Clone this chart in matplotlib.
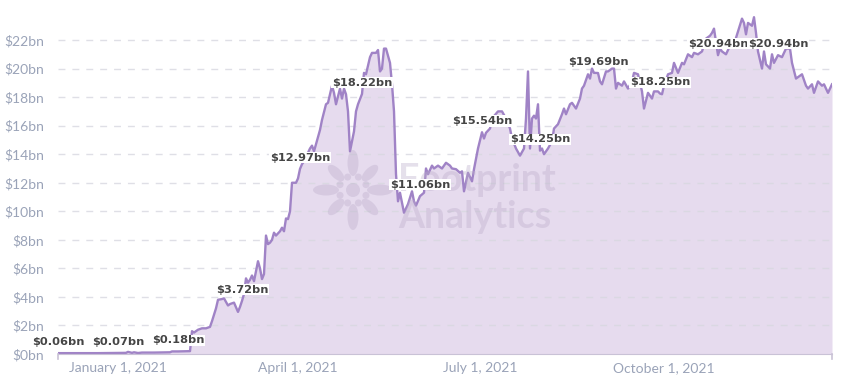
import matplotlib
matplotlib.use("Agg")
import matplotlib.pyplot as plt
from matplotlib.patches import Ellipse
import numpy as np
import pandas as pd

# days since 2020-12-02 and TVL in $bn
start = pd.Timestamp("2020-12-02")
day = [0, 10, 20, 30, 34, 35, 37, 38, 40, 42, 48, 56, 57, 60, 66, 67, 68, 70, 72, 74,
       76, 77, 79, 80, 82, 83, 85, 86, 88, 90, 91, 92, 93, 94, 95, 96, 97, 98, 100, 101,
       102, 103, 104, 105, 106, 107, 108, 109, 111, 112, 113, 114, 115, 116, 117, 119, 120, 121, 122, 123,
       125, 126, 127, 128, 129, 131, 132, 134, 135, 137, 138, 139, 141, 142, 143, 144, 145, 146, 148, 149,
       150, 152, 153, 154, 155, 156, 157, 159, 160, 161, 162, 163, 164, 166, 167, 168, 169, 170, 171, 173,
       175, 177, 178, 179, 181, 183, 184, 185, 187, 188, 190, 192, 194, 196, 197, 199, 201, 202, 203, 205,
       207, 208, 210, 212, 213, 214, 216, 217, 220, 222, 224, 226, 227, 229, 231, 233, 234, 235, 236, 237,
       238, 239, 240, 241, 242, 243, 245, 247, 248, 250, 252, 253, 254, 256, 257, 259, 261, 262, 263, 265,
       266, 267, 268, 270, 271, 272, 274, 275, 277, 278, 279, 280, 282, 283, 285, 287, 288, 290, 292, 293,
       295, 297, 298, 300, 301, 302, 303, 305, 307, 308, 310, 312, 313, 315, 317, 318, 320, 322, 324, 326,
       327, 328, 330, 331, 332, 334, 336, 338, 340, 342, 343, 344, 345, 347, 348, 349, 350, 352, 353, 354,
       356, 357, 358, 360, 362, 364, 366, 367, 369, 371, 372, 374, 375, 377, 378, 380, 382, 383, 384, 385,
       387]
tvl = [0.06, 0.06, 0.06, 0.07, 0.08, 0.15, 0.08, 0.12, 0.07, 0.10, 0.10, 0.12, 0.18, 0.18, 0.20, 1.6, 1.5, 1.7, 1.8, 1.8,
       1.9, 2.3, 3.2, 3.8, 3.85, 3.9, 3.4, 3.5, 3.6, 2.95, 3.3, 3.72, 4.2, 5.3, 5.0, 5.2, 5.5, 5.1, 6.5, 6.0,
       5.25, 5.6, 8.3, 7.7, 7.8, 8.0, 8.5, 8.3, 8.6, 8.85, 8.6, 9.5, 9.45, 10.0, 12.0, 12.0, 12.3, 12.97, 13.3, 13.5,
       14.1, 14.4, 14.6, 14.2, 14.7, 15.7, 16.4, 17.5, 17.6, 18.8, 18.3, 17.5, 18.6, 17.9, 18.6, 18.2, 17.0, 14.2, 15.6, 17.0,
       17.5, 18.22, 19.7, 19.6, 20.2, 20.8, 21.1, 21.1, 21.3, 19.8, 20.0, 21.4, 21.4, 20.4, 18.9, 17.0, 12.6, 10.7, 11.3, 9.9,
       10.5, 11.4, 10.7, 10.4, 11.06, 11.3, 13.0, 12.6, 13.2, 13.0, 13.2, 13.0, 13.4, 13.2, 13.0, 12.95, 12.7, 12.8, 11.4, 12.7,
       12.1, 12.95, 14.4, 15.54, 15.1, 15.5, 15.8, 16.5, 17.0, 17.0, 16.5, 15.8, 15.1, 14.4, 13.9, 14.4, 16.5, 19.8, 14.4, 16.5,
       16.7, 16.5, 17.5, 14.25, 14.4, 14.0, 14.4, 14.9, 15.8, 16.1, 16.8, 17.2, 16.8, 17.5, 17.6, 17.2, 17.9, 18.6, 18.8, 19.6,
       19.3, 20.0, 19.7, 19.69, 19.1, 18.9, 19.8, 19.8, 20.0, 20.0, 18.6, 19.0, 18.8, 19.1, 18.6, 19.1, 19.7, 19.6, 18.4, 17.2,
       18.3, 17.9, 18.4, 18.4, 18.25, 18.2, 18.8, 19.6, 19.7, 20.4, 19.7, 20.4, 20.3, 21.0, 20.8, 21.1, 21.0, 21.2, 22.1, 22.3,
       22.5, 22.8, 20.94, 21.4, 21.2, 21.0, 21.6, 21.7, 22.6, 23.5, 23.2, 22.4, 23.2, 23.0, 23.6, 22.5, 21.2, 20.0, 21.2, 20.3,
       20.0, 21.0, 20.4, 20.94, 20.8, 21.4, 21.4, 20.4, 19.3, 19.5, 19.6, 18.8, 18.6, 18.9, 18.3, 19.1, 18.8, 18.9, 18.6, 18.3,
       18.9]

# labelled points (every ~30 days)
label_days = [0, 30, 60, 92, 121, 152, 181, 212, 241, 270, 301, 330, 360]

yticks = list(range(0, 24, 2))
xtick_dates = ["2021-01-01", "2021-04-01", "2021-07-01", "2021-10-01"]
xtick_labels = ["January 1, 2021", "April 1, 2021", "July 1, 2021", "October 1, 2021"]

line_c = "#a083c6"
fill_c = "#e6dbee"
tick_c = "#9aa3b8"

dates = start + pd.to_timedelta(day, unit="D")
s = pd.Series(tvl, index=dates)

fig = plt.figure(figsize=(8.51, 3.80), dpi=100)
ax = fig.add_axes([58 / 851, 1 - 354 / 380, (832 - 58) / 851, 342.5 / 380])

ax.fill_between(s.index, 0, s.values, color=fill_c, lw=0, zorder=1)
ax.plot(s.index, s.values, color=line_c, lw=1.7, zorder=3)

ax.set_xlim(start, start + pd.Timedelta(days=387))
ax.set_ylim(0, 24)
ax.set_yticks(yticks)
ax.set_yticklabels([f"${v}bn" for v in yticks], fontfamily="Lato", fontsize=10, color=tick_c)
ax.set_xticks(pd.to_datetime(xtick_dates))
ax.set_xticklabels(xtick_labels, fontfamily="Lato", fontsize=10, color=tick_c)
ax.tick_params(axis="both", length=0, pad=6)
ax.tick_params(axis="y", pad=10)

for g in yticks[1:]:
    ax.axhline(g, color="#d8d8e0", lw=1, ls=(0, (5, 5)), alpha=0.8, zorder=2)

for sp in ["top", "right", "left"]:
    ax.spines[sp].set_visible(False)
ax.spines["bottom"].set_color("#c9c2d6")
ax.spines["bottom"].set_zorder(4)

# small end ticks on the x axis
for xd in [start, start + pd.Timedelta(days=387)]:
    ax.plot([xd, xd], [0, -0.35], color="#c9c2d6", lw=1.2, clip_on=False, zorder=4)

# watermark, drawn in an overlay measured in pixels
wm = fig.add_axes([0, 0, 1, 1], zorder=0.5)
wm.set_xlim(0, 851)
wm.set_ylim(380, 0)
wm.axis("off")
wm.patch.set_alpha(0)
wc = "#bcaecb"
wa = 0.38
cx, cy = 353, 190
for ang in range(0, 360, 45):
    big = ang % 90 == 0
    r = 27 if big else 24
    L, W = (26, 11) if big else (21, 10)
    ex = cx + r * np.cos(np.radians(ang))
    ey = cy - r * np.sin(np.radians(ang))
    wm.add_patch(Ellipse((ex, ey), L, W, angle=-ang, color=wc, alpha=wa, lw=0))
for ang in range(22, 360, 45):
    ex = cx + 14 * np.cos(np.radians(ang + 0.5))
    ey = cy - 14 * np.sin(np.radians(ang + 0.5))
    wm.add_patch(Ellipse((ex, ey), 7, 7, color=wc, alpha=wa, lw=0))
wm.add_patch(Ellipse((cx, cy), 14, 14, color=wc, alpha=wa, lw=0))
wm.text(398, 180, "Footprint", fontfamily="Lato", fontweight="bold",
        fontsize=27, color=wc, alpha=wa, va="center", ha="left")
wm.text(398, 217, "Analytics", fontfamily="Lato", fontweight="bold",
        fontsize=27, color=wc, alpha=wa, va="center", ha="left")

# value labels on top
top = fig.add_axes(ax.get_position(), sharex=ax, sharey=ax, zorder=2)
top.axis("off")
top.patch.set_alpha(0)
for d in label_days:
    dt = start + pd.Timedelta(days=d)
    v = s[dt]
    top.annotate(f"${v:.2f}bn", (dt, v), xytext=(0, 4.5), textcoords="offset points",
                 ha="center", va="bottom", fontsize=8.2, fontweight="bold", color="#454545",
                 bbox=dict(facecolor="white", edgecolor="none", pad=0.4),
                 annotation_clip=False)

fig.savefig("out.png", dpi=100)
